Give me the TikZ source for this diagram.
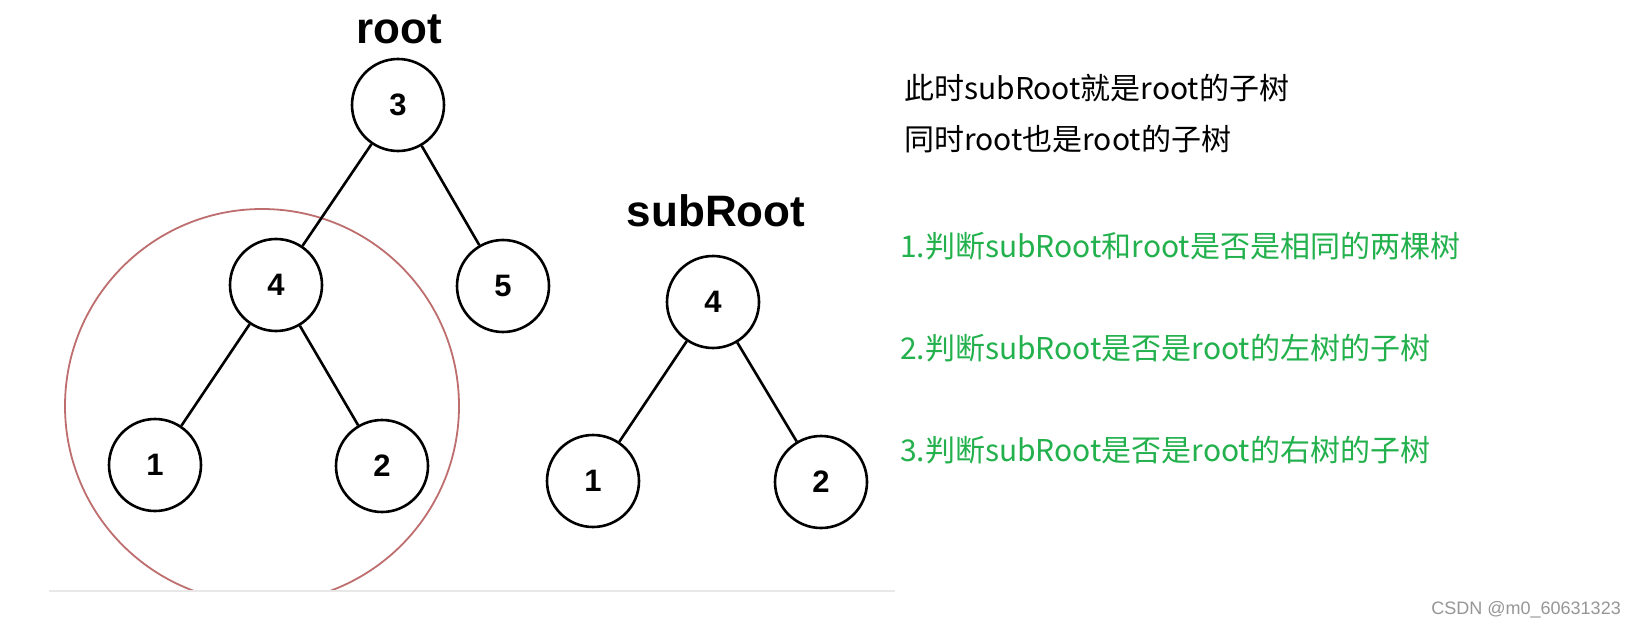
\documentclass[tikz,border=0pt]{standalone}
\usepackage{fontspec}
\setmainfont{Liberation Sans}
\newfontfamily\cjk{Noto Sans CJK SC}
\definecolor{tgreen}{RGB}{34,177,76}
\definecolor{cred}{RGB}{190,110,110}
\definecolor{wmgray}{RGB}{150,150,150}
\definecolor{lgray}{RGB}{232,232,232}
\begin{document}
\begin{tikzpicture}[x=1pt,y=-1pt,
  tnode/.style={circle,draw,line width=2.6pt,minimum size=92pt,inner sep=0pt,fill=white,
    font=\fontsize{31}{31}\selectfont\bfseries},
  edge/.style={line width=2.6pt},
  title/.style={font=\fontsize{44}{44}\selectfont\bfseries,inner sep=0pt},
  txt/.style={anchor=west,inner sep=0pt,font=\cjk\fontsize{30}{30}\selectfont}]
\useasboundingbox[fill=white] (0,0) rectangle (1637,631);
% highlight circle (clipped at the bottom line)
\begin{scope}
  \clip (0,0) rectangle (1637,591);
  \draw[cred,line width=1.8pt] (262,406) circle[radius=197pt];
\end{scope}
\draw[lgray,line width=1.2pt] (49,591) -- (895,591);
% left tree
\node[title] (lroot) at (399,29) {root};
\node[tnode] (n3) at (398,105) {3};
\node[tnode] (n4) at (276,285) {4};
\node[tnode] (n5) at (503,286) {5};
\node[tnode] (n1) at (155,465) {1};
\node[tnode] (n2) at (382,466) {2};
\draw[edge] (n3) -- (n4);
\draw[edge] (n3) -- (n5);
\draw[edge] (n4) -- (n1);
\draw[edge] (n4) -- (n2);
% right tree
\node[title] (lsub) at (716,211) {subRoot};
\node[tnode] (s4) at (713,302) {4};
\node[tnode] (s1) at (593,481) {1};
\node[tnode] (s2) at (821,482) {2};
\draw[edge] (s4) -- (s1);
\draw[edge] (s4) -- (s2);
% texts
\node[txt] (t1) at (904,88) {此时subRoot就是root的子树};
\node[txt] (t2) at (904,139) {同时root也是root的子树};
\node[txt,text=tgreen] (g1) at (900,246) {1.判断subRoot和root是否是相同的两棵树};
\node[txt,text=tgreen] (g2) at (900,348) {2.判断subRoot是否是root的左树的子树};
\node[txt,text=tgreen] (g3) at (900,450) {3.判断subRoot是否是root的右树的子树};
\node[anchor=east,inner sep=0pt,text=wmgray,font=\fontsize{18}{18}\selectfont] (wm) at (1621,610) {CSDN @m0\_60631323};
\end{tikzpicture}
\end{document}
